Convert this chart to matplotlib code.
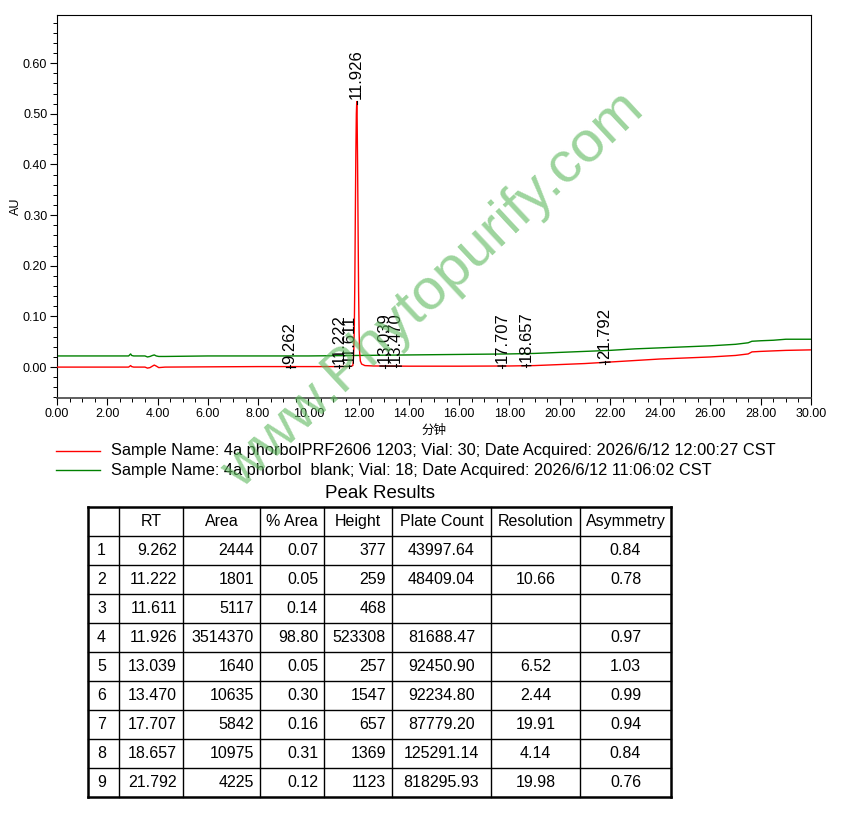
import matplotlib
matplotlib.use("Agg")
import matplotlib.pyplot as plt
import numpy as np

plt.rcParams['font.family'] = ['Liberation Sans', 'Noto Sans CJK SC', 'DejaVu Sans']

# chromatogram traces (minutes, AU)
red_t = [0.0, 2.85, 2.93, 2.97, 3.05, 3.50, 3.60, 3.70, 3.80, 3.87, 3.95, 4.05, 4.30,
         6.0, 8.0, 10.0, 11.0, 11.5, 11.70, 11.77, 11.79, 11.81, 11.83, 11.85, 11.87,
         11.89, 11.91, 11.926, 11.94, 11.96, 11.98, 12.00, 12.02, 12.04, 12.07, 12.12,
         12.25, 12.6, 14.0, 16.0, 18.0, 19.0, 20.0, 21.0, 22.0, 23.0, 24.0, 25.0, 26.0,
         27.0, 27.5, 27.65, 28.0, 28.5, 29.0, 30.0]
red_y = [0.0, 0.0, 0.003, 0.001, 0.0, 0.0, -0.002, -0.001, 0.002, 0.004, 0.002, -0.001, 0.0,
         0.0005, 0.001, 0.001, 0.001, 0.0012, 0.0015, 0.003, 0.012, 0.035, 0.08, 0.17, 0.30,
         0.42, 0.50, 0.524, 0.50, 0.40, 0.27, 0.15, 0.07, 0.03, 0.012, 0.006,
         0.003, 0.0022, 0.0018, 0.0018, 0.0022, 0.003, 0.005, 0.007, 0.010, 0.013, 0.016, 0.018, 0.020,
         0.023, 0.026, 0.030, 0.031, 0.032, 0.033, 0.034]

green_t = [0.0, 2.85, 2.93, 2.97, 3.05, 3.50, 3.60, 3.70, 3.80, 3.87, 3.95, 4.05, 4.30,
           6.0, 8.0, 10.0, 12.0, 14.0, 16.0, 18.0, 19.0, 20.0, 21.0, 22.0, 23.0, 24.0,
           25.0, 26.0, 27.0, 27.5, 27.65, 28.0, 28.5, 29.0, 30.0]
green_y = [0.022, 0.022, 0.026, 0.023, 0.022, 0.022, 0.020, 0.021, 0.023, 0.024, 0.022, 0.021, 0.021,
           0.022, 0.022, 0.022, 0.023, 0.024, 0.025, 0.026, 0.027, 0.029, 0.031, 0.033, 0.036, 0.038,
           0.040, 0.042, 0.045, 0.048, 0.051, 0.052, 0.053, 0.055, 0.055]

red_name = "Sample Name: 4a phorbolPRF2606 1203; Vial: 30; Date Acquired: 2026/6/12 12:00:27 CST"
green_name = "Sample Name: 4a phorbol  blank; Vial: 18; Date Acquired: 2026/6/12 11:06:02 CST"

# peak results table
peak_no = [1, 2, 3, 4, 5, 6, 7, 8, 9]
rt = [9.262, 11.222, 11.611, 11.926, 13.039, 13.470, 17.707, 18.657, 21.792]
area = [2444, 1801, 5117, 3514370, 1640, 10635, 5842, 10975, 4225]
pct_area = [0.07, 0.05, 0.14, 98.80, 0.05, 0.30, 0.16, 0.31, 0.12]
height = [377, 259, 468, 523308, 257, 1547, 657, 1369, 1123]
plate_count = [43997.64, 48409.04, None, 81688.47, 92450.90, 92234.80, 87779.20, 125291.14, 818295.93]
resolution = [None, 10.66, None, None, 6.52, 2.44, 19.91, 4.14, 19.98]
asymmetry = [0.84, 0.78, None, 0.97, 1.03, 0.99, 0.94, 0.84, 0.76]
headers = ["", "RT", "Area", "% Area", "Height", "Plate Count", "Resolution", "Asymmetry"]

# integration baseline spans (start, end)
bl_start = [9.10, 11.05, 12.85, 17.55, 18.50, 21.60]
bl_end = [9.45, 11.70, 13.70, 17.85, 18.85, 22.00]

W, H = 855, 814
fig = plt.figure(figsize=(W / 100, H / 100), dpi=100)
ax = fig.add_axes([57 / W, 1 - 398 / H, (811 - 57) / W, (398 - 15) / H])

ax.plot(green_t, green_y, color='#008000', lw=1.0, zorder=2)
ax.plot(red_t, red_y, color='#ff0000', lw=1.0, zorder=3)

for s, e in zip(bl_start, bl_end):
    ax.plot([s, e], [np.interp(s, red_t, red_y), np.interp(e, red_t, red_y)],
            color='black', lw=0.9, zorder=4)

for r, h in zip(rt, height):
    base = np.interp(r, red_t, red_y)
    y = max(base, h / 1e6) if h > 100000 else base + h / 1e6
    ax.plot([r, r], [y - 0.004, y + 0.002], color='black', lw=0.8, zorder=4)
    ax.annotate(f"{r:.3f}", (r, y), xytext=(0, 2), textcoords='offset points',
                rotation=90, ha='center', va='bottom', fontsize=12, zorder=5)

ax.set_xlim(0, 30)
ax.set_ylim(-0.061, 0.695)
ax.set_xticks(np.arange(0, 30.1, 2))
ax.set_xticks(np.arange(0, 30.1, 0.5), minor=True)
ax.set_xticklabels([f"{v:.2f}" for v in np.arange(0, 30.1, 2)])
ax.set_yticks(np.arange(0, 0.61, 0.1))
ax.set_yticks(np.arange(-0.06, 0.69, 0.02), minor=True)
ax.set_yticklabels([f"{v:.2f}" for v in np.arange(0, 0.61, 0.1)])
ax.tick_params(which='major', length=5, width=0.8, labelsize=9, pad=2)
ax.tick_params(which='minor', length=3, width=0.7)
for sp in ax.spines.values():
    sp.set_linewidth(0.8)
ax.spines['bottom'].set_linewidth(1.2)
ax.spines['bottom'].set_color('#444444')
ax.set_ylabel("AU", fontsize=9, labelpad=1)
ax.set_xlabel("分钟", fontsize=9, labelpad=3, family=['Noto Sans CJK SC', 'DejaVu Sans'])

# overlay in pixel coordinates for legend, table, watermark
ov = fig.add_axes([0, 0, 1, 1])
ov.set_xlim(0, W)
ov.set_ylim(H, 0)
ov.axis('off')

for y, c, name in [(451, '#ff0000', red_name), (470, '#008000', green_name)]:
    ov.plot([56, 100], [y, y], color=c, lw=1.0)
    ov.text(111, y, name, fontsize=11.8, va='center', ha='left')

ov.text(379.5, 493, "Peak Results", fontsize=13.5, ha='center', va='center')

col_edges = [88, 119, 183, 260, 324, 392, 491, 580, 671]
top, rowh = 507, 29.0
nrows = len(peak_no) + 1
bottom = top + rowh * nrows

for x in col_edges:
    lw = 1.8 if x in (col_edges[0], col_edges[-1]) else 1.0
    ov.plot([x, x], [top, bottom], color='black', lw=lw, solid_capstyle='projecting')
for i in range(nrows + 1):
    y = top + i * rowh
    lw = 1.8 if i in (0, nrows) else 1.0
    ov.plot([col_edges[0], col_edges[-1]], [y, y], color='black', lw=lw, solid_capstyle='projecting')

for j, hd in enumerate(headers):
    xc = (col_edges[j] + col_edges[j + 1]) / 2
    ov.text(xc, top + rowh / 2, hd, fontsize=11.5, ha='center', va='center')


def fmt(v, spec):
    return "" if v is None else format(v, spec)


for i in range(len(peak_no)):
    yc = top + rowh * (i + 1.5)
    cells = [str(peak_no[i]), f"{rt[i]:.3f}", f"{area[i]}", f"{pct_area[i]:.2f}",
             f"{height[i]}", fmt(plate_count[i], ".2f"), fmt(resolution[i], ".2f"),
             fmt(asymmetry[i], ".2f")]
    for j, txt in enumerate(cells):
        l, r = col_edges[j], col_edges[j + 1]
        if j == 0:
            ov.text(l + 9, yc, txt, fontsize=11.5, ha='left', va='center')
        elif j <= 4:
            ov.text(r - 6, yc, txt, fontsize=11.5, ha='right', va='center')
        else:
            ov.text((l + r) / 2, yc, txt, fontsize=11.5, ha='center', va='center')

ov.text(433, 290, "www.Phytopurify.com", fontsize=42, rotation=43,
        rotation_mode='anchor', ha='center', va='center', color='#5cb85c', alpha=0.6)

fig.savefig("out.png", dpi=100)
